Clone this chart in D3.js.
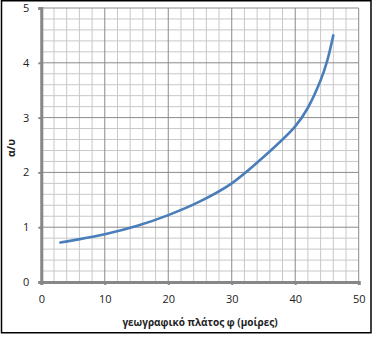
<!DOCTYPE html>
<html><head><meta charset="utf-8">
<script src="https://cdn.jsdelivr.net/npm/d3@7"></script>
<style>body{margin:0;background:#fff}svg{display:block}</style>
</head><body>
<script>
const latitude = [3, 5, 10, 15, 20, 25, 30, 35, 40, 42, 44, 45, 46];
const ratio    = [0.72, 0.76, 0.87, 1.02, 1.22, 1.47, 1.8, 2.28, 2.84, 3.18, 3.68, 4.02, 4.5];
const xTicks = [0, 10, 20, 30, 40, 50];
const yTicks = [0, 1, 2, 3, 4, 5];
const xLabel = "γεωγραφικό πλάτος φ (μοίρες)";
const yLabel = "α/υ";

const W = 382, H = 354;
const svg = d3.select("body").append("svg").attr("width", W).attr("height", H);
const font = "'Open Sans', 'Liberation Sans', sans-serif";

svg.append("rect").attr("x", 1.5).attr("y", 0.75).attr("width", 369.5).attr("height", 332)
  .attr("fill", "#fff").attr("stroke", "#000").attr("stroke-width", 1.5);

const x = d3.scaleLinear().domain([0, 50]).range([41.3, 358.7]);
const y = d3.scaleLinear().domain([0, 5]).range([282, 8]);

const g = svg.append("g");
// minor grid
const minorX = d3.range(0, 50.01, 2).filter(v => v % 10 !== 0);
const minorY = d3.range(0, 5.001, 0.2).map(v => +v.toFixed(1)).filter(v => Math.abs(v - Math.round(v)) > 1e-6);
g.selectAll(".mx").data(minorX).join("line")
  .attr("x1", d => x(d)).attr("x2", d => x(d)).attr("y1", y(0)).attr("y2", y(5))
  .attr("stroke", "#c8c8c8").attr("stroke-width", 1);
g.selectAll(".my").data(minorY).join("line")
  .attr("x1", x(0)).attr("x2", x(50)).attr("y1", d => y(d)).attr("y2", d => y(d))
  .attr("stroke", "#c8c8c8").attr("stroke-width", 1);
// major grid
g.selectAll(".Mx").data(xTicks).join("line")
  .attr("x1", d => x(d)).attr("x2", d => x(d)).attr("y1", y(0)).attr("y2", y(5))
  .attr("stroke", "#8a8a8a").attr("stroke-width", 1);
g.selectAll(".My").data(yTicks).join("line")
  .attr("x1", x(0)).attr("x2", x(50)).attr("y1", d => y(d)).attr("y2", d => y(d))
  .attr("stroke", "#8a8a8a").attr("stroke-width", 1);

// axes
const xAxis = svg.append("g").attr("transform", `translate(0,${y(0)})`)
  .call(d3.axisBottom(x).tickValues(xTicks).tickFormat(d3.format("d")).tickSize(3).tickPadding(10));
const yAxis = svg.append("g").attr("transform", `translate(${x(0)},0)`)
  .call(d3.axisLeft(y).tickValues(yTicks).tickFormat(d3.format("d")).tickSize(3).tickPadding(9));
[xAxis, yAxis].forEach(a => {
  a.select(".domain").attr("stroke", "#878787").attr("stroke-width", 3);
  a.selectAll(".tick line").attr("stroke", "#878787").attr("stroke-width", 2);
  a.selectAll("text").attr("font-family", font).attr("font-size", 11).attr("fill", "#222");
});

// curve
svg.append("path")
  .datum(latitude.map((d, i) => [d, ratio[i]]))
  .attr("fill", "none").attr("stroke", "#4a7ebb").attr("stroke-width", 2.6)
  .attr("stroke-linecap", "round")
  .attr("d", d3.line().x(d => x(d[0])).y(d => y(d[1])).curve(d3.curveCatmullRom.alpha(0.5)));

// labels
svg.append("text").attr("x", 200).attr("y", 325.5).attr("text-anchor", "middle")
  .attr("font-family", font).attr("font-size", 10).attr("font-weight", "bold").attr("fill", "#222")
  .text(xLabel);
svg.append("text").attr("transform", "translate(15,148) rotate(-90)").attr("text-anchor", "middle")
  .attr("font-family", font).attr("font-size", 10.5).attr("font-weight", "bold").attr("fill", "#222")
  .text(yLabel);
</script>
</body></html>
